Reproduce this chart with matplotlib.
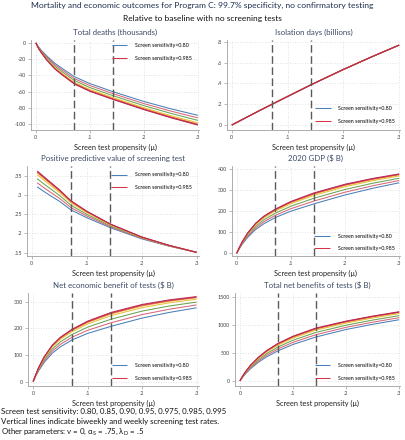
import matplotlib
matplotlib.use("Agg")
import matplotlib.pyplot as plt

plt.rcParams["font.family"] = ["Lato", "DejaVu Sans"]

# screening test sensitivities, one line per value
sens_labels = ["0.80", "0.85", "0.90", "0.95", "0.975", "0.985", "0.995"]
line_colors = ["#4a7fb8", "#d9667a", "#6ba353", "#e3c33a", "#f0952a", "#d6334c", "#b82a55"]

prop_x = [0, .005, .01, .02, .035, .05, .0714, .1, .1429, .2, .25, .3]
ppv_x = [.01, .02, .035, .05, .0714, .1, .1429, .2, .25, .3]

biweekly_rate = 1 / 14
weekly_rate = 1 / 7

deaths = [
    [0, -5, -9, -16, -25, -32, -41.6, -50, -60, -72, -81, -89],
    [0, -5.5, -9.8, -17.3, -26.8, -34, -43.9, -52.4, -62.4, -74.6, -83.8, -92.1],
    [0, -6, -10.5, -18.6, -28.6, -36.1, -46.2, -54.9, -64.9, -77.1, -86.6, -95.2],
    [0, -6.5, -11.3, -19.8, -30.4, -38.2, -48.5, -57.3, -67.3, -79.7, -89.5, -98.2],
    [0, -6.8, -11.7, -20.5, -31.3, -39.2, -49.7, -58.5, -68.5, -81, -90.9, -99.8],
    [0, -6.9, -11.8, -20.7, -31.6, -39.6, -50.1, -59, -69, -81.5, -91.4, -100.4],
    [0, -7, -12, -21, -32, -40, -50.6, -59.5, -69.5, -82, -92, -101],
]

isolation = [
    [0, .014, .028, .056, .098, .14, .198, .275, .39, .535, .655, .77],
    [0, .014, .028, .056, .098, .14, .198, .275, .39, .535, .655, .77],
    [0, .014, .028, .056, .098, .14, .198, .275, .39, .535, .655, .77],
    [0, .014, .028, .056, .098, .14, .198, .275, .39, .535, .655, .77],
    [0, .014, .028, .056, .098, .14, .198, .275, .39, .535, .655, .77],
    [0, .014, .028, .056, .098, .14, .198, .275, .39, .535, .655, .77],
    [0, .014, .028, .056, .098, .14, .198, .275, .39, .535, .655, .77],
]

ppv = [
    [.321, .311, .297, .284, .261, .241, .215, .186, .167, .151],
    [.3315, .321, .306, .2917, .2671, .2454, .2175, .1873, .1675, .151],
    [.342, .331, .315, .2994, .2733, .2497, .2199, .1886, .168, .151],
    [.3525, .341, .3239, .3071, .2795, .2541, .2224, .1898, .1685, .151],
    [.3578, .346, .3284, .3109, .2825, .2562, .2236, .1905, .1688, .151],
    [.3599, .348, .3302, .3125, .2838, .2571, .2241, .1907, .1689, .151],
    [.362, .350, .332, .314, .285, .258, .2246, .191, .169, .151],
]

gdp = [
    [0, 22, 42, 75, 113, 140, 170, 200, 235, 277, 308, 335],
    [0, 23.5, 45.1, 80.4, 120.7, 149.2, 180.2, 211.8, 248.3, 290.1, 320, 345.8],
    [0, 25.1, 48.2, 85.8, 128.4, 158.5, 190.5, 223.6, 261.7, 303.2, 332.1, 356.5],
    [0, 26.6, 51.2, 91.1, 136.1, 167.7, 200.8, 235.4, 275, 316.2, 344.1, 367.3],
    [0, 27.4, 52.8, 93.8, 139.9, 172.3, 205.9, 241.3, 281.6, 322.7, 350.2, 372.7],
    [0, 27.7, 53.4, 94.9, 141.5, 174.2, 208, 243.7, 284.3, 325.4, 352.6, 374.9],
    [0, 28, 54, 96, 143, 176, 210, 246, 287, 328, 355, 377],
]

net_econ = [
    [0, 21, 40, 71.1, 106.2, 130.2, 156.1, 180.5, 207.1, 238, 259.2, 276.5],
    [0, 22.5, 43.1, 76.5, 113.9, 139.4, 166.3, 192.3, 220.4, 251.1, 271.2, 287.3],
    [0, 24.1, 46.2, 81.9, 121.6, 148.7, 176.6, 204.1, 233.8, 264.2, 283.3, 298],
    [0, 25.6, 49.2, 87.2, 129.3, 157.9, 186.9, 215.9, 247.1, 277.2, 295.3, 308.8],
    [0, 26.4, 50.8, 89.9, 133.1, 162.5, 192, 221.8, 253.7, 283.7, 301.4, 314.2],
    [0, 26.7, 51.4, 91, 134.7, 164.4, 194.1, 224.2, 256.4, 286.4, 303.8, 316.4],
    [0, 27, 52, 92.1, 136.2, 166.2, 196.1, 226.5, 259.1, 289, 306.2, 318.5],
]

total_net = [
    [0, 65, 121, 218, 335, 429, 537, 652, 785, 920, 1013, 1095],
    [0, 69.9, 130.2, 234.1, 358, 457.4, 571, 689.9, 826, 958.4, 1050.6, 1131.6],
    [0, 74.7, 139.5, 250.3, 381.2, 485.9, 605.2, 727.9, 867.1, 997, 1088.4, 1168.4],
    [0, 79.6, 148.7, 266.4, 404.2, 514.4, 639.3, 765.8, 908, 1035.4, 1126, 1205],
    [0, 82, 153.3, 274.5, 415.7, 528.6, 656.3, 784.8, 928.5, 1054.6, 1144.9, 1223.3],
    [0, 83, 155.2, 277.8, 420.4, 534.3, 663.2, 792.5, 936.8, 1062.4, 1152.5, 1230.7],
    [0, 84, 157, 281, 425, 540, 670, 800, 945, 1070, 1160, 1238],
]

W, H = 405, 440
fig = plt.figure(figsize=(W / 100, H / 100), dpi=100)
fig.patch.set_facecolor("white")


def add_axes(left, right, top, bottom):
    return fig.add_axes([left / W, 1 - bottom / H, (right - left) / W, (bottom - top) / H])


def draw_panel(ax, x, series, title, yticks, yticklabels, ylim, xlim, leg_anchor):
    for ys, col in zip(series, line_colors):
        ax.plot(x, ys, color=col, lw=0.75, solid_capstyle="butt", zorder=3)
    for v in (biweekly_rate, weekly_rate):
        ax.axvline(v, color="#5a5a5a", lw=1.0, ls=(0, (5.5, 2.5)), zorder=4)

    ax.set_xlim(*xlim)
    ax.set_ylim(*ylim)
    ax.set_xticks([0, .1, .2, .3])
    ax.set_xticklabels(["0", ".1", ".2", ".3"])
    ax.set_yticks(yticks)
    ax.set_yticklabels(yticklabels)
    ax.grid(True, color="#d8d8d8", lw=0.6, ls=(0, (1, 2)), zorder=0)

    for s in ("top", "right"):
        ax.spines[s].set_visible(False)
    for s in ("left", "bottom"):
        ax.spines[s].set_color("#a0a0a0")
        ax.spines[s].set_linewidth(0.6)
    ax.tick_params(length=2.2, width=0.5, color="#a0a0a0", labelsize=3.9,
                   labelcolor="#444444", pad=1.5)

    ax.set_xlabel("Screen test propensity (μ)", fontsize=5.3, color="#222222", labelpad=2.5)
    ax.set_title(title, fontsize=5.7, color="#3b4a66", pad=3.5)

    handles = [ax.lines[0], ax.lines[5]]
    labels = ["Screen sensitivity=" + sens_labels[0], "Screen sensitivity=" + sens_labels[5]]
    ax.legend(handles, labels, loc="center left", bbox_to_anchor=leg_anchor,
              frameon=False, fontsize=3.8, handlelength=2.9, handletextpad=1.5,
              labelspacing=1.45, borderpad=0, borderaxespad=0)


xl = (-0.009, 0.302)

ax1 = add_axes(31, 199, 40, 130)
draw_panel(ax1, prop_x, deaths, "Total deaths (thousands)",
           [0, -20, -40, -60, -80, -100], ["0", "-20", "-40", "-60", "-80", "-100"],
           (-107, 3.5), xl, (0.48, 0.87))

ax2 = add_axes(227, 400, 40, 130)
draw_panel(ax2, prop_x, isolation, "Isolation days (billions)",
           [0, .2, .4, .6, .8], ["0", ".2", ".4", ".6", ".8"],
           (-0.048, 0.819), (-0.0086, 0.3015), (0.51, 0.17))

ax3 = add_axes(27, 199, 166, 256)
draw_panel(ax3, ppv_x, ppv, "Positive predictive value of screening test",
           [.15, .2, .25, .3, .35], [".15", ".2", ".25", ".3", ".35"],
           (0.1414, 0.375), (-0.0085, 0.3045), (0.49, 0.83))

ax4 = add_axes(232, 400, 166, 256)
draw_panel(ax4, prop_x, gdp, "2020 GDP ($ B)",
           [0, 100, 200, 300, 400], ["0", "100", "200", "300", "400"],
           (-13, 414.6), (-0.0087, 0.3015), (0.49, 0.15))

ax5 = add_axes(28, 199, 293, 386)
draw_panel(ax5, prop_x, net_econ, "Net economic benefit of tests ($ B)",
           [0, 100, 200, 300], ["0", "100", "200", "300"],
           (-16.5, 332), (-0.0094, 0.3045), (0.49, 0.15))

ax6 = add_axes(235, 400, 293, 386)
draw_panel(ax6, prop_x, total_net, "Total net benefits of tests ($ B)",
           [0, 500, 1000, 1500], ["0", "500", "1000", "1500"],
           (-91, 1573), (-0.0092, 0.3015), (0.485, 0.15))

fig.text(0.5, 1 - 5 / H, "Mortality and economic outcomes for Program C: 99.7% specificity, no confirmatory testing",
         ha="center", va="center", fontsize=6.1, color="#1e2f4f")
fig.text(0.5, 1 - 18 / H, "Relative to baseline with no screening tests",
         ha="center", va="center", fontsize=6.0, color="#111111")

footer_lines = [
    "Screen test sensitivity: " + ", ".join(sens_labels),
    "Vertical lines indicate biweekly and weekly screening test rates.",
    "Other parameters: ν = 0, α$_\\mathregular{S}$ = .75, λ$_\\mathregular{D}$ = .5",
]
for i, line in enumerate(footer_lines):
    fig.text(1 / W, 1 - (411 + 10 * i) / H, line, ha="left", va="center",
             fontsize=5.7, color="#111111")

fig.savefig("out.png", dpi=100)
